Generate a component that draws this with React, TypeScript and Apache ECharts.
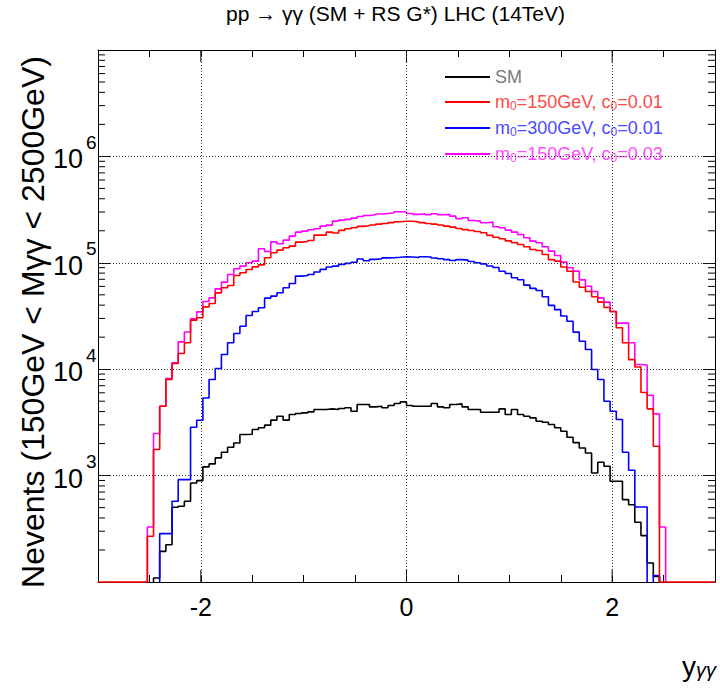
import React, { useEffect, useRef } from "react";
import * as echarts from "echarts";

const FONT = '"Liberation Sans", Arial, Helvetica, sans-serif';

// Histogram binning: 100 bins from -3 to 3
const X_MIN = -3;
const X_MAX = 3;
const BIN_WIDTH = 0.06;
const Y_FLOOR = 100;
const Y_MAX = 1e7;

const X_LABELS = [-2, 0, 2];
const X_GRID = [-2, 0, 2];
const Y_GRID = [1e3, 1e4, 1e5, 1e6];
const Y_LABEL_EXPONENTS = [3, 4, 5, 6];
const Y_MINOR = [2, 3, 4, 5, 6, 7, 8, 9].flatMap((m) => [1e2, 1e3, 1e4, 1e5, 1e6].map((d) => m * d));

const TITLE = "pp \u2192 \u03b3\u03b3 (SM + RS G*) LHC (14TeV)";
const Y_TITLE = "Nevents (150GeV < M\u03b3\u03b3 < 2500GeV)";

const SERIES_NAMES = ["SM", "m0=150GeV, c0=0.01", "m0=300GeV, c0=0.01", "m0=150GeV, c0=0.03"];

// bin contents (events per bin), bins 0..99
const SM = [
  0, 0, 0, 0, 0, 0, 0, 0, 0, 109,
  194, 224, 504, 515, 574, 853, 897, 1208, 1288, 1466,
  1656, 1845, 2028, 2432, 2450, 2710, 2812, 2979, 3319, 3614,
  3319, 3750, 3828, 3890, 3972, 4178, 4178, 4236, 4178, 4266,
  4335, 4027, 4656, 4656, 4426, 4487, 4335, 4560, 4753, 4932,
  4560, 4487, 4487, 4487, 4753, 4426, 4335, 4656, 4721, 4426,
  4178, 4178, 3945, 3945, 3945, 4236, 3750, 4178, 3750, 3614,
  3491, 3243, 3177, 3020, 2812, 2612, 2291, 2042, 1820, 1633,
  1059, 1334, 1225, 885, 885, 594, 533, 364, 273, 151,
  113, 0, 0, 0, 0, 0, 0, 0, 0, 0,
];

const RS_150_001 = [
  0, 0, 0, 0, 0, 0, 0, 0, 269, 1758,
  4487, 8000, 11300, 14030, 17700, 28900, 30400, 38500, 41500, 52200,
  58200, 61200, 76000, 80500, 86500, 91600, 95700, 111400, 124200, 131500,
  138400, 143600, 156300, 158500, 162200, 182000, 182000, 194100, 190500, 201800,
  208900, 213800, 219800, 222800, 226500, 230700, 234400, 238800, 243200, 245500,
  245500, 242700, 238800, 234400, 230700, 226500, 221300, 216300, 209900, 205100,
  200900, 196800, 191400, 181100, 173800, 168300, 160700, 154900, 148600, 141300,
  133400, 130300, 119700, 107200, 103800, 91200, 83200, 66100, 58900, 53700,
  47900, 42700, 38000, 34700, 24500, 17700, 12300, 10500, 6030, 4240,
  1890, 0, 0, 0, 0, 0, 0, 0, 0, 0,
];

const RS_300_001 = [
  0, 0, 0, 0, 0, 0, 0, 0, 0, 0,
  285, 285, 574, 916, 916, 2851, 3311, 5370, 8000, 10140,
  13740, 17700, 21630, 25350, 31990, 34830, 37760, 46560, 48640, 52240,
  58210, 63970, 74990, 76030, 77620, 81850, 86700, 91200, 93100, 96600,
  98850, 101200, 108400, 104700, 107600, 109100, 111200, 111700, 112700, 113800,
  113500, 112200, 114000, 113500, 110900, 109100, 107200, 105200, 107200, 105900,
  102800, 100000, 97700, 93300, 90200, 83200, 79400, 72400, 69200, 61700,
  57500, 55000, 47900, 39800, 36300, 31600, 28200, 22300, 18300, 15300,
  9930, 8000, 5000, 4030, 3370, 1656, 1122, 507, 507, 0,
  115, 0, 0, 0, 0, 0, 0, 0, 0, 0,
];

const RS_150_003 = [
  0, 0, 0, 0, 0, 0, 0, 0, 329, 2483,
  4487, 8166, 11480, 18070, 22390, 29720, 34590, 43250, 46770, 56890,
  65770, 77620, 87900, 93110, 100000, 103800, 135500, 127900, 157400, 151000,
  163300, 178200, 194100, 198600, 204200, 208900, 221300, 225900, 246600, 251800,
  255900, 263000, 272300, 278600, 282500, 287100, 291100, 295100, 302000, 299900,
  291100, 285100, 289100, 282500, 289100, 282500, 285100, 274800, 259400, 264900,
  250000, 246600, 237700, 241000, 218300, 213300, 202800, 194100, 184500, 171800,
  160000, 154200, 141300, 128800, 117200, 101400, 89750, 83560, 69180, 60260,
  53700, 46770, 42660, 35080, 27100, 27100, 17700, 11070, 10960, 5690,
  3800, 329, 0, 0, 0, 0, 0, 0, 0, 0,
];

const LINE_COLORS = ["#000000", "#ff0000", "#0000ff", "#ff00ff"];
const TEXT_COLORS = ["#7a7a7a", "#ff4a4a", "#4a4aff", "#ff4aff"];

// Build step outline of a histogram; empty bins sit on the axis floor.
function histPoints(vals: number[], drawFloor: boolean) {
  const pts: any[] = [];
  for (let i = 0; i < vals.length; i++) {
    const lo = +(X_MIN + i * BIN_WIDTH).toFixed(4);
    const hi = +(X_MIN + (i + 1) * BIN_WIDTH).toFixed(4);
    const v = vals[i];
    const prev = i > 0 ? vals[i - 1] : 0;
    const next = i < vals.length - 1 ? vals[i + 1] : 0;
    if (v > 0) {
      if (!drawFloor && prev <= 0 && i > 0) pts.push([lo, Y_FLOOR]);
      pts.push([lo, v], [hi, v]);
      if (!drawFloor && next <= 0 && i < vals.length - 1) {
        pts.push([hi, Y_FLOOR]);
        pts.push([hi, "-"]);
      }
    } else if (drawFloor) {
      pts.push([lo, Y_FLOOR], [hi, Y_FLOOR]);
    }
  }
  return pts;
}

const MINOR_LEN = 7;
const MAJOR_LEN = 12;

function legendFormatter(name: string) {
  const k = SERIES_NAMES.indexOf(name);
  const parts = name.split(/(?<=[mc])0/);
  return parts.map((p) => `{n${k}|${p}}`).join(`{s${k}|0}`);
}

function buildOption() {
  const data = [SM, RS_150_001, RS_300_001, RS_150_003];
  const order = [0, 2, 3, 1];
  const rich: any = {};
  for (let k = 0; k < 4; k++) {
    rich["n" + k] = { fontSize: 18, lineHeight: 18, color: TEXT_COLORS[k], fontFamily: FONT };
    rich["s" + k] = { fontSize: 12, lineHeight: 20, color: TEXT_COLORS[k], fontFamily: FONT, verticalAlign: "bottom" };
  }
  const histSeries = order.map((k) => ({
    name: SERIES_NAMES[k],
    type: "line",
    data: histPoints(data[k], k === 1),
    showSymbol: false,
    symbol: "none",
    connectNulls: false,
    clip: false,
    silent: true,
    z: 3,
    lineStyle: { color: LINE_COLORS[k], width: 1.6 },
    itemStyle: { color: LINE_COLORS[k] },
    emphasis: { disabled: true },
  }));

  // kind 0: log minor ticks, kind 1: major x ticks, kind 2: y decade labels
  const decoData = [
    ...Y_MINOR.map((v) => [X_MIN, v, 0]),
    ...X_GRID.map((x) => [x, Y_FLOOR, 1]),
    ...Y_LABEL_EXPONENTS.map((e) => [X_MIN, Math.pow(10, e), 2]),
  ];

  const seg = (x1: number, y1: number, x2: number, y2: number) => ({
    type: "line",
    shape: { x1, y1, x2, y2 },
    style: { stroke: "#000", lineWidth: 1 },
  });

  const decoSeries = {
    type: "custom",
    silent: true,
    z: 1,
    clip: false,
    data: decoData,
    renderItem: (params: any, api: any) => {
      const kind = api.value(2);
      if (kind === 0) {
        const v = api.value(1);
        const l = api.coord([X_MIN, v]);
        const r = api.coord([X_MAX, v]);
        return {
          type: "group",
          children: [seg(l[0], l[1], l[0] + MINOR_LEN, l[1]), seg(r[0] - MINOR_LEN, r[1], r[0], r[1])],
        };
      }
      if (kind === 2) {
        const v = api.value(1);
        const p = api.coord([X_MIN, v]);
        const e = Math.round(Math.log10(v));
        return {
          type: "group",
          children: [
            {
              type: "text",
              x: p[0] - 15,
              y: p[1] + 3,
              style: { text: "10", fontSize: 27, fontFamily: FONT, fill: "#000", align: "right", verticalAlign: "middle" },
            },
            {
              type: "text",
              x: p[0] - 12,
              y: p[1] - 14,
              style: { text: String(e), fontSize: 19, fontFamily: FONT, fill: "#000", align: "left", verticalAlign: "middle" },
            },
          ],
        };
      }
      const x = api.value(0);
      const b = api.coord([x, Y_FLOOR]);
      const t = api.coord([x, Y_MAX]);
      return {
        type: "group",
        children: [seg(b[0], b[1], b[0], b[1] - MAJOR_LEN), seg(t[0], t[1], t[0], t[1] + MAJOR_LEN)],
      };
    },
    markLine: {
      silent: true,
      symbol: "none",
      label: { show: false },
      lineStyle: { color: "#333", width: 1, type: [1, 2] },
      data: [...X_GRID.map((x) => ({ xAxis: x })), ...Y_GRID.map((y) => ({ yAxis: y }))],
    },
  };

  const axisLineStyle = { color: "#000", width: 1 };

  return {
    animation: false,
    backgroundColor: "#ffffff",
    title: {
      text: TITLE,
      left: 226,
      top: 3,
      padding: 0,
      textStyle: { fontSize: 21, fontWeight: "normal", color: "#000", fontFamily: FONT },
    },
    grid: { left: 98, right: 5, top: 50, bottom: 112, containLabel: false },
    legend: {
      orient: "vertical",
      left: 445,
      top: 68,
      padding: 0,
      itemWidth: 45,
      itemHeight: 2,
      itemGap: 6,
      icon: "rect",
      selectedMode: false,
      data: SERIES_NAMES.map((n, k) => ({ name: n, itemStyle: { color: LINE_COLORS[k] } })),
      formatter: legendFormatter,
      textStyle: { fontSize: 18, lineHeight: 18, fontFamily: FONT, rich },
    },
    xAxis: [
      {
        type: "value",
        position: "bottom",
        min: X_MIN,
        max: X_MAX,
        interval: 0.5,
        axisLine: { show: true, onZero: false, lineStyle: axisLineStyle },
        axisTick: { show: true, inside: true, length: MINOR_LEN, lineStyle: axisLineStyle },
        axisLabel: {
          margin: 12,
          fontSize: 25,
          color: "#000",
          fontFamily: FONT,
          formatter: (v: number) => (X_LABELS.indexOf(v) >= 0 ? String(v) : ""),
        },
        splitLine: { show: false },
      },
      {
        type: "value",
        position: "top",
        min: X_MIN,
        max: X_MAX,
        interval: 0.5,
        axisLine: { show: true, onZero: false, lineStyle: axisLineStyle },
        axisTick: { show: true, inside: true, length: MINOR_LEN, lineStyle: axisLineStyle },
        axisLabel: { show: false },
        splitLine: { show: false },
      },
    ],
    yAxis: [
      {
        type: "log",
        logBase: 10,
        min: Y_FLOOR,
        max: Y_MAX,
        splitNumber: 5,
        position: "left",
        axisLine: { show: true, onZero: false, lineStyle: axisLineStyle },
        axisTick: { show: true, inside: true, length: MAJOR_LEN, lineStyle: axisLineStyle },
        minorTick: { show: false },
        splitLine: { show: false },
        axisLabel: { show: false },
      },
      {
        type: "log",
        logBase: 10,
        min: Y_FLOOR,
        max: Y_MAX,
        splitNumber: 5,
        position: "right",
        axisLine: { show: true, onZero: false, lineStyle: axisLineStyle },
        axisTick: { show: true, inside: true, length: MAJOR_LEN, lineStyle: axisLineStyle },
        minorTick: { show: false },
        splitLine: { show: false },
        axisLabel: { show: false },
      },
    ],
    graphic: [
      {
        type: "text",
        x: 33,
        y: 322,
        rotation: Math.PI / 2,
        style: {
          text: Y_TITLE,
          fontSize: 32,
          fontFamily: FONT,
          fill: "#000",
          align: "center",
          verticalAlign: "middle",
        },
      },
      {
        type: "text",
        right: 4,
        top: 652,
        style: {
          text: "{a|y}{s|\u03b3\u03b3}",
          fontFamily: FONT,
          fill: "#000",
          rich: {
            a: { fontSize: 28, lineHeight: 32, fontFamily: FONT, fill: "#000", color: "#000", verticalAlign: "bottom" },
            s: { fontSize: 20, lineHeight: 42, fontFamily: FONT, fill: "#000", color: "#000", verticalAlign: "bottom", fontStyle: "italic" },
          },
        },
      },
    ],
    series: [decoSeries, ...histSeries],
  };
}

export default function App() {
  const ref = useRef<HTMLDivElement>(null);
  useEffect(() => {
    if (!ref.current) return;
    const chart = echarts.init(ref.current, null, { renderer: "svg" });
    chart.setOption(buildOption() as any);
    return () => chart.dispose();
  }, []);
  return (
    <div
      ref={ref}
      style={{ position: "fixed", left: 0, top: 0, width: 720, height: 694, background: "#fff" }}
    />
  );
}
